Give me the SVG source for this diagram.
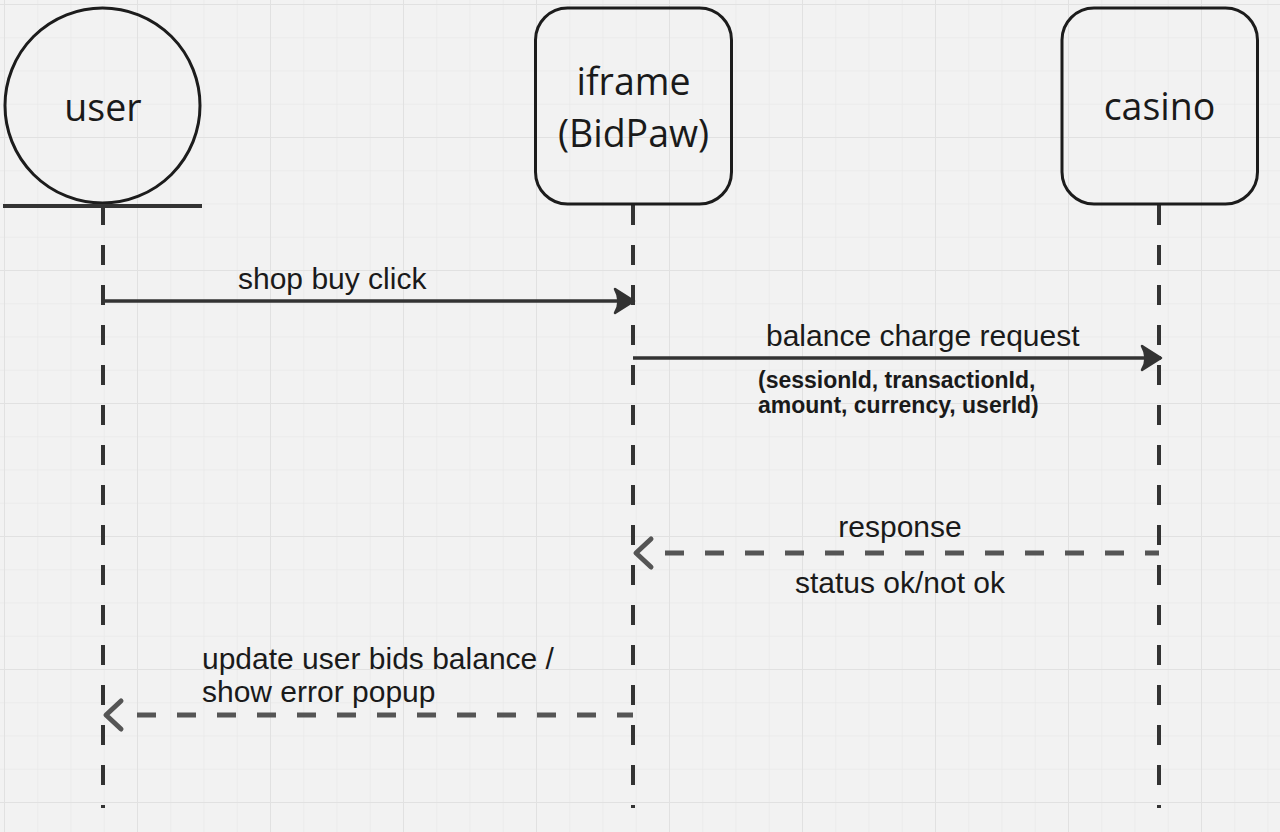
<svg xmlns="http://www.w3.org/2000/svg" width="1280" height="832" viewBox="0 0 1280 832">
<defs>
<pattern id="minor" x="4" y="4" width="33.25" height="33.25" patternUnits="userSpaceOnUse">
<path d="M0 0H33.25M0 0V33.25" fill="none" stroke="#e9e9e9" stroke-width="1.5"/>
</pattern>
<pattern id="major" x="4" y="4" width="133" height="133" patternUnits="userSpaceOnUse">
<path d="M0 0H133M0 0V133" fill="none" stroke="#e1e1e1" stroke-width="2"/>
</pattern>
<marker id="solidHead" markerWidth="26" markerHeight="30" refX="21" refY="15" orient="auto" markerUnits="userSpaceOnUse">
<path d="M21 15 L2 3 Q9 15 2 27 Z" fill="#333" stroke="#333" stroke-width="2.5" stroke-linejoin="round"/>
</marker>
</defs>
<style>
.node{fill:none;stroke:#1c1c1c;stroke-width:3}
.nlabel{font-family:"Open Sans","Noto Sans",sans-serif;font-size:37.5px;fill:#1a1a1a;text-anchor:middle}
.life{stroke:#333;stroke-width:4;stroke-dasharray:20 20;fill:none}
.solid{stroke:#333;stroke-width:3.5;fill:none}
.dash{stroke:#555;stroke-width:5;stroke-dasharray:19 21;fill:none}
.chev{stroke:#555;stroke-width:5;fill:none;stroke-linecap:round;stroke-linejoin:round}
.mlabel{font-family:"Liberation Sans",Arial,sans-serif;font-size:30px;fill:#1a1a1a}
.blabel{font-family:"Liberation Sans",Arial,sans-serif;font-size:23px;font-weight:bold;fill:#1a1a1a}
</style>
<rect width="1280" height="832" fill="#f2f2f2"/>
<rect width="1280" height="832" fill="url(#minor)"/>
<rect width="1280" height="832" fill="url(#major)"/>

<g id="connectors">
<line class="life" x1="103" y1="205" x2="103" y2="808"/>
<line class="life" x1="633" y1="205" x2="633" y2="808"/>
<line class="life" x1="1159" y1="205" x2="1159" y2="808"/>
<line class="solid" x1="103" y1="301" x2="634" y2="301" marker-end="url(#solidHead)"/>
<line class="solid" x1="633" y1="358" x2="1161" y2="358" marker-end="url(#solidHead)"/>
<line class="dash" x1="665" y1="553" x2="1159" y2="553"/>
<path class="chev" d="M651 539 L636 553 L651 567"/>
<line class="dash" x1="137" y1="715" x2="633" y2="715"/>
<path class="chev" d="M121 701 L106 715 L121 729"/>
<text class="mlabel" x="238" y="289">shop buy click</text>
<text class="mlabel" x="766" y="346">balance charge request</text>
<text class="blabel" x="758" y="388">(sessionId, transactionId,</text>
<text class="blabel" x="758" y="413">amount, currency, userId)</text>
<text class="mlabel" x="900" y="537" text-anchor="middle">response</text>
<text class="mlabel" x="900" y="593" text-anchor="middle">status ok/not ok</text>
<text class="mlabel" x="202" y="669">update user bids balance /</text>
<text class="mlabel" x="202" y="702">show error popup</text>
</g>

<g id="user">
<circle class="node" cx="102.5" cy="105.5" r="97.5"/>
<line x1="3" y1="206" x2="202" y2="206" stroke="#333" stroke-width="4"/>
<text class="nlabel" x="103" y="121">user</text>
</g>
<g id="iframe">
<rect class="node" x="535.5" y="8" width="196" height="196" rx="32"/>
<text class="nlabel" x="633.5" y="95">iframe</text>
<text class="nlabel" x="633.5" y="147">(BidPaw)</text>
</g>
<g id="casino">
<rect class="node" x="1062" y="8" width="195.5" height="196" rx="32"/>
<text class="nlabel" x="1159.5" y="120">casino</text>
</g>
</svg>
